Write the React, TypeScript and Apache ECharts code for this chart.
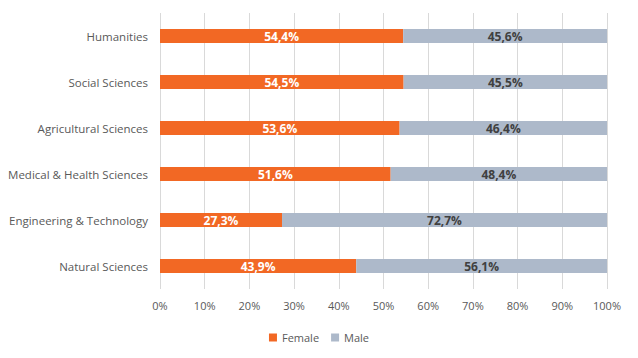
import React, { useEffect, useRef } from "react";
import * as echarts from "echarts";

const categories = [
  "Humanities",
  "Social Sciences",
  "Agricultural Sciences",
  "Medical & Health Sciences",
  "Engineering & Technology",
  "Natural Sciences",
];
const female = [54.4, 54.5, 53.6, 51.6, 27.3, 43.9];
const male = [45.6, 45.5, 46.4, 48.4, 72.7, 56.1];
const xTicks = [0, 10, 20, 30, 40, 50, 60, 70, 80, 90, 100];

const FONT = "'Open Sans', 'Noto Sans', sans-serif";

export default function App() {
  const ref = useRef<HTMLDivElement>(null);
  useEffect(() => {
    if (!ref.current) return;
    const chart = echarts.init(ref.current, undefined, { renderer: "svg" });
    const fmt = (v: number) => v.toFixed(1).replace(".", ",") + "%";
    chart.setOption({
      animation: false,
      backgroundColor: "#ffffff",
      grid: { left: 160, right: 31, top: 13, bottom: 69, containLabel: false },
      xAxis: {
        type: "value",
        min: xTicks[0],
        max: xTicks[xTicks.length - 1],
        interval: 10,
        axisLine: { show: false },
        axisTick: { show: false },
        splitLine: { show: true, lineStyle: { color: "#d9d9d9", width: 1 } },
        axisLabel: {
          formatter: (v: number) => v + "%",
          color: "#595959",
          fontFamily: FONT,
          fontSize: 11,
          margin: 11,
        },
      },
      yAxis: {
        type: "category",
        data: categories,
        inverse: true,
        axisLine: { show: false },
        axisTick: { show: false },
        axisLabel: { color: "#595959", fontFamily: FONT, fontSize: 11.5, margin: 12 },
      },
      legend: {
        bottom: 10,
        left: "center",
        itemWidth: 8,
        itemHeight: 8,
        itemGap: 12,
        icon: "rect",
        textStyle: { color: "#595959", fontFamily: FONT, fontSize: 11 },
        data: ["Female", "Male"],
      },
      series: [
        {
          name: "Female",
          type: "bar",
          stack: "total",
          data: female,
          barWidth: 14,
          itemStyle: { color: "#f26824" },
          label: {
            show: true,
            position: "inside",
            formatter: (p: any) => fmt(p.value),
            color: "#ffffff",
            fontWeight: "bold",
            fontFamily: FONT,
            fontSize: 12,
          },
        },
        {
          name: "Male",
          type: "bar",
          stack: "total",
          data: male,
          barWidth: 14,
          itemStyle: { color: "#adb9ca" },
          label: {
            show: true,
            position: "inside",
            formatter: (p: any) => fmt(p.value),
            color: "#404040",
            fontWeight: "bold",
            fontFamily: FONT,
            fontSize: 12,
          },
        },
      ],
    });
    return () => chart.dispose();
  }, []);
  return <div ref={ref} style={{ width: 638, height: 358, margin: -8 }} />;
}
